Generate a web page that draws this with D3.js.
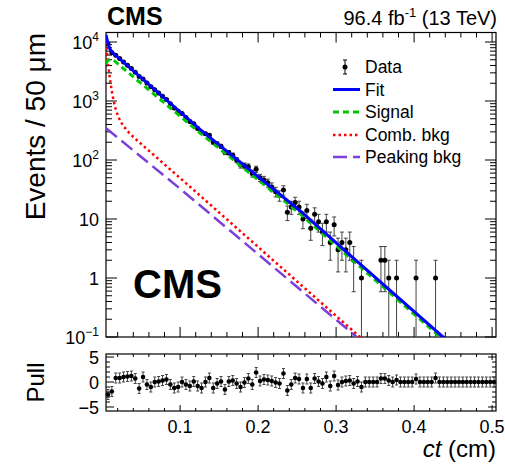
<!DOCTYPE html>
<html><head><meta charset="utf-8">
<script src="https://cdn.jsdelivr.net/npm/d3@7"></script>
<style>
body{margin:0;background:#fff}
svg{display:block}
text{font-family:"Liberation Sans",Arial,Helvetica,sans-serif;fill:#000}
</style>
</head><body>
<svg id="c" width="505" height="466"></svg>
<script>
// ---------------- data ----------------
const binLow = 0.005, binWidth = 0.005;
const counts = [9300,6600,5980,5230,4600,4030,3540,3070,2590,2370,
  2010,1740,1556,1365,1200,1058,897,764,672,611,
  523,451,411,343,294,279,262,199,188,171,
  135,133,120,100,82,80,77,59,70,50,
  46,41,35,29,25,31,13,16,19,16,
  10,14,7,12,9,6,9,4,8,3,
  4,3,4,2,0,1,0,0,0,0,
  2,2,1,0,1,0,0,0,0,1,
  0,0,0,0,1,0,0,0,0,0,
  0,0,0,0,0,0,0,0,0,0];
const pulls = [-2.5,-1.9,0.8,0.8,1.0,1.1,1.2,0.7,-1.3,1.0,
  -0.5,-1.0,0,0.1,0.3,0.5,-0.5,-1.2,-1.0,0,
  -0.5,-0.8,0.1,-0.8,-1.2,0,0.8,-1.2,-0.3,0.1,
  -1.5,0.1,0.3,-0.3,-1.0,-0.1,0.7,-0.5,1.9,0.2,
  0.5,0.4,0.2,-0.1,-0.3,1.7,-1.7,-0.5,0.8,0.6,
  -1.2,0.6,-1.2,0.7,0.1,-0.3,1.0,-0.8,1.2,-0.6,
  0,0.2,0.3,-0.3,0.1,-1.0,0,0,0,0,
  0.7,0.7,0.3,0,0.4,0,0,0,0,0.6,
  0,0,0,0,0.8,0,0,0,0,0,
  0,0,0,0,0,0,0,0,0,0];
// model curves [ct, events]
const fitCurve = [[0.005,13200],[0.0075,9500],[0.010,7600],[0.0144,6430],[0.1255,331],[0.2537,13.8],[0.3178,2.45],[0.437,0.1],[0.445,0.08]];
const signalCurve = [[0.005,4300],[0.0075,4900],[0.010,5000],[0.0144,4950],[0.1255,288],[0.2537,12.3],[0.3178,2.19],[0.437,0.091],[0.445,0.074]];
const combCurve = [[0.005,10000],[0.0065,6030],[0.0075,4365],[0.010,2400],[0.0125,1445],[0.015,977],[0.0175,724],[0.020,575],[0.023,468],[0.0268,385],[0.031,327],[0.035,285],[0.0395,250],[0.0444,218],[0.1127,35.2],[0.3306,0.1],[0.34,0.078]];
const peakCurve = [[0.005,347],[0.102,31],[0.3264,0.1],[0.335,0.08]];
const xMajor = [0.1,0.2,0.3,0.4,0.5];
const yExps = [-1,0,1,2,3,4];
const pullMajor = [-5,0,5];
const legendLabels = ["Data","Fit","Signal","Comb. bkg","Peaking bkg"];

// ---------------- layout ----------------
const L=106, R=496, T=32.5, B=337, PT=354, PB=411;
const svg = d3.select("#c");
const x = d3.scaleLinear().domain([0.005,0.505]).range([L,R]);
const yTopLog = -1 + (B-T)/59;
const y = d3.scaleLog().domain([0.1, Math.pow(10,yTopLog)]).range([B,T]);
const yp = d3.scaleLinear().domain([-5.8,5.6]).range([PB,PT]);

const colors = {fit:"#0000ff", sig:"#00c800", comb:"#ff0000", peak:"#7d3fd9"};

svg.append("defs").append("clipPath").attr("id","clipMain")
  .append("rect").attr("x",L).attr("y",T).attr("width",R-L).attr("height",B-T);

// ---------------- ticks ----------------
const g = svg.append("g");
function tick(x1,y1,x2,y2){ g.append("line").attr("x1",x1).attr("y1",y1).attr("x2",x2).attr("y2",y2).attr("stroke","#000").attr("stroke-width",1); }

for (let v=0.02; v<=0.5001; v+=0.02) {
  const xv = x(v); const maj = Math.abs(v*10-Math.round(v*10))<1e-6;
  const lm = maj?10:5, lp = maj?6:3;
  tick(xv,B,xv,B-lm); tick(xv,T,xv,T+lm);
  tick(xv,PB,xv,PB-lp); tick(xv,PT,xv,PT+lp);
}
yExps.forEach(e=>{
  for (let m=1;m<=9;m++){
    const v = m*Math.pow(10,e);
    if (v<0.1-1e-9 || v>Math.pow(10,yTopLog)) continue;
    const yv=y(v), len = m===1?11:6;
    tick(L,yv,L+len,yv); tick(R,yv,R-len,yv);
  }
});
for (let v=-5; v<=5; v++){
  const len = (v%5===0)?8:4;
  tick(L,yp(v),L+len,yp(v)); tick(R,yp(v),R-len,yp(v));
}

svg.append("rect").attr("x",L).attr("y",T).attr("width",R-L).attr("height",B-T).attr("fill","none").attr("stroke","#000").attr("stroke-width",1.2);
svg.append("rect").attr("x",L).attr("y",PT).attr("width",R-L).attr("height",PB-PT).attr("fill","none").attr("stroke","#000").attr("stroke-width",1.2);

// tick labels
xMajor.forEach(v=>{
  svg.append("text").attr("x",x(v)).attr("y",433).attr("text-anchor","middle").attr("font-size",18).text(v.toFixed(1));
});
yExps.forEach(e=>{
  const t = svg.append("text").attr("x",99).attr("y",y(Math.pow(10,e))+6.5).attr("text-anchor","end").attr("font-size",18);
  if (e===0) t.text("1");
  else if (e===1) t.text("10");
  else { t.append("tspan").text("10"); t.append("tspan").attr("font-size",12).attr("dy",-8).text(e<0?"\u2212"+(-e):String(e)); }
});
pullMajor.forEach(v=>{
  svg.append("text").attr("x",99).attr("y",yp(v)+6.5).attr("text-anchor","end").attr("font-size",18).text(v<0?"\u2212"+(-v):String(v));
});

// axis titles
svg.append("text").attr("transform","translate(45,33) rotate(-90)").attr("text-anchor","end").attr("font-size",28).text("Events / 50 \u03bcm");
svg.append("text").attr("transform",`translate(44,${(PT+PB)/2}) rotate(-90)`).attr("text-anchor","middle").attr("font-size",24).text("Pull");
const xt = svg.append("text").attr("x",R).attr("y",457).attr("text-anchor","end").attr("font-size",24);
xt.append("tspan").attr("font-style","italic").text("ct");
xt.append("tspan").text(" (cm)");

// header
svg.append("text").attr("x",107).attr("y",25).attr("font-size",25).attr("font-weight","bold").text("CMS");
const lum = svg.append("text").attr("x",497).attr("y",25).attr("text-anchor","end").attr("font-size",20);
lum.append("tspan").text("96.4 fb");
lum.append("tspan").attr("font-size",13).attr("dy",-8).text("-1");
lum.append("tspan").attr("dy",8).text(" (13 TeV)");
svg.append("text").attr("x",133).attr("y",298).attr("font-size",40).attr("font-weight","bold").text("CMS");

// ---------------- data points ----------------
const bins = counts.map((c,i)=>({xc: binLow + binWidth*(i+0.5), n:c, p:pulls[i]}));
const gd = svg.append("g").attr("clip-path","url(#clipMain)");
bins.filter(d=>d.n>0).forEach(d=>{
  const s=Math.sqrt(d.n), xv=x(d.xc);
  const yHi=y(d.n+s), yLo = (d.n-s)>0.1 ? y(d.n-s) : B+2;
  gd.append("line").attr("x1",xv).attr("x2",xv).attr("y1",yHi).attr("y2",yLo).attr("stroke","#444").attr("stroke-width",1);
  gd.append("line").attr("x1",xv-2).attr("x2",xv+2).attr("y1",yHi).attr("y2",yHi).attr("stroke","#444").attr("stroke-width",1);
  if ((d.n-s)>0.1) gd.append("line").attr("x1",xv-2).attr("x2",xv+2).attr("y1",yLo).attr("y2",yLo).attr("stroke","#444").attr("stroke-width",1);
  gd.append("circle").attr("cx",xv).attr("cy",y(d.n)).attr("r",2.5).attr("fill","#000");
});

// ---------------- curves ----------------
const line = d3.line().x(d=>x(d[0])).y(d=>y(d[1]));
const gc = svg.append("g").attr("clip-path","url(#clipMain)");
gc.append("path").datum(peakCurve).attr("d",line).attr("fill","none").attr("stroke",colors.peak).attr("stroke-width",2.5).attr("stroke-dasharray","14,6");
gc.append("path").datum(combCurve).attr("d",line).attr("fill","none").attr("stroke",colors.comb).attr("stroke-width",2.5).attr("stroke-dasharray","2.5,3");
gc.append("path").datum(signalCurve).attr("d",line).attr("fill","none").attr("stroke",colors.sig).attr("stroke-width",3).attr("stroke-dasharray","6,4");
gc.append("path").datum(fitCurve).attr("d",line).attr("fill","none").attr("stroke",colors.fit).attr("stroke-width",3);

// ---------------- pulls ----------------
bins.forEach(d=>{
  const xv=x(d.xc);
  svg.append("line").attr("x1",xv).attr("x2",xv).attr("y1",yp(d.p+1)).attr("y2",yp(d.p-1)).attr("stroke","#444").attr("stroke-width",1);
  svg.append("line").attr("x1",xv-1.5).attr("x2",xv+1.5).attr("y1",yp(d.p+1)).attr("y2",yp(d.p+1)).attr("stroke","#444").attr("stroke-width",1);
  svg.append("line").attr("x1",xv-1.5).attr("x2",xv+1.5).attr("y1",yp(d.p-1)).attr("y2",yp(d.p-1)).attr("stroke","#444").attr("stroke-width",1);
  svg.append("circle").attr("cx",xv).attr("cy",yp(d.p)).attr("r",2.3).attr("fill","#000");
});

// ---------------- legend ----------------
const rows=[67,89.5,112,135,157];
const lg = svg.append("g");
legendLabels.forEach((lab,i)=>{
  lg.append("text").attr("x",365).attr("y",rows[i]+6).attr("font-size",17.5).text(lab);
});
lg.append("line").attr("x1",345).attr("x2",345).attr("y1",rows[0]-7).attr("y2",rows[0]+7).attr("stroke","#000").attr("stroke-width",1);
lg.append("line").attr("x1",343).attr("x2",347).attr("y1",rows[0]-7).attr("y2",rows[0]-7).attr("stroke","#000");
lg.append("line").attr("x1",343).attr("x2",347).attr("y1",rows[0]+7).attr("y2",rows[0]+7).attr("stroke","#000");
lg.append("circle").attr("cx",345).attr("cy",rows[0]).attr("r",2.5).attr("fill","#000");
const legStyles=[null,[colors.fit,3,null],[colors.sig,3,"6,4"],[colors.comb,2.5,"2.5,3"],[colors.peak,2.5,"14,6"]];
legStyles.forEach((s,i)=>{
  if(!s) return;
  const l=lg.append("line").attr("x1",333).attr("x2",360).attr("y1",rows[i]).attr("y2",rows[i]).attr("stroke",s[0]).attr("stroke-width",s[1]);
  if(s[2]) l.attr("stroke-dasharray",s[2]);
});
</script>
</body></html>
